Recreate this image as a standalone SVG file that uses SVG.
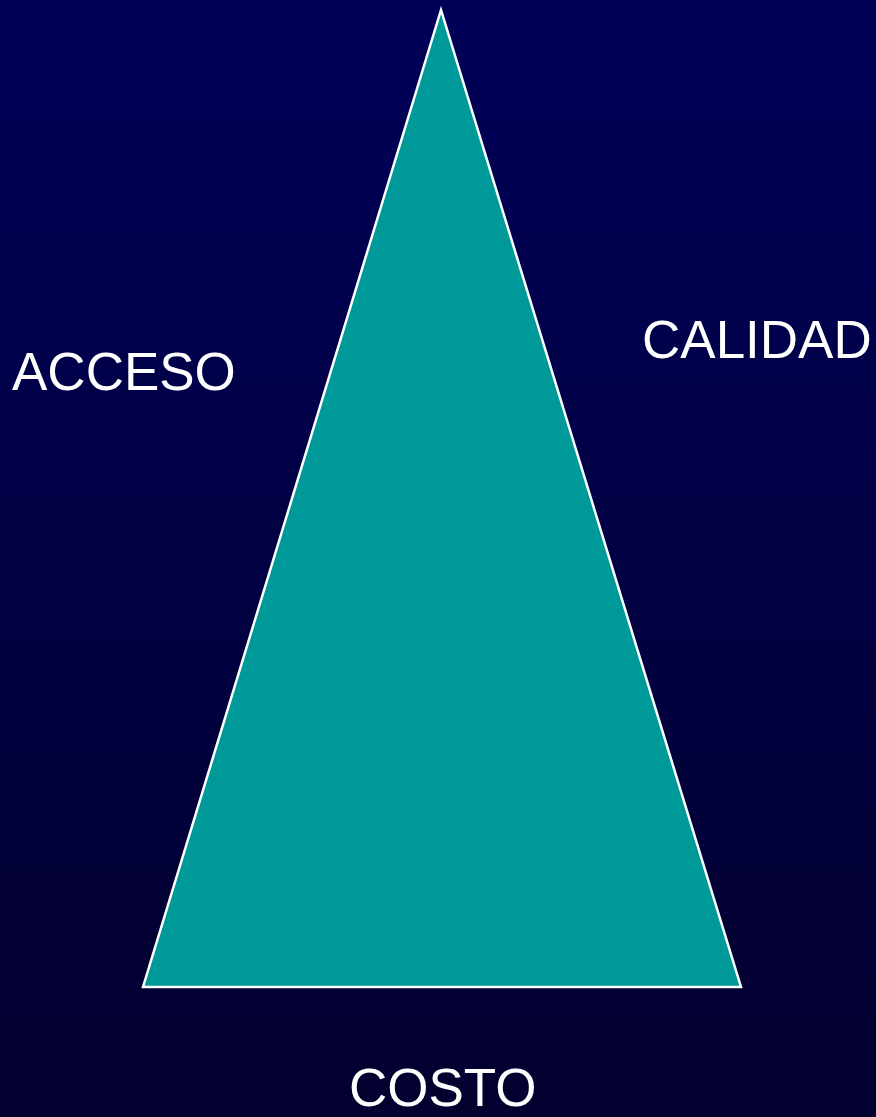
<svg xmlns="http://www.w3.org/2000/svg" width="876" height="1117" viewBox="0 0 876 1117">
<defs>
<linearGradient id="bg" x1="0" y1="0" x2="0" y2="1">
<stop offset="0" stop-color="#000058"/>
<stop offset="1" stop-color="#02002e"/>
</linearGradient>
<style>
.lbl{font-family:"Liberation Sans",Arial,sans-serif;font-size:53px;fill:#ffffff}
</style>
</defs>
<rect width="876" height="1117" fill="url(#bg)"/>
<g id="triangle">
<polygon points="441,10 143,987 741,987" fill="#009999" stroke="#ffffff" stroke-width="2.5"/>
</g>
<g id="acceso"><text class="lbl" x="12" y="390">ACCESO</text></g>
<g id="calidad"><text class="lbl" x="642" y="358">CALIDAD</text></g>
<g id="costo"><text class="lbl" x="349" y="1106">COSTO</text></g>
<g id="connectors"></g>
</svg>
